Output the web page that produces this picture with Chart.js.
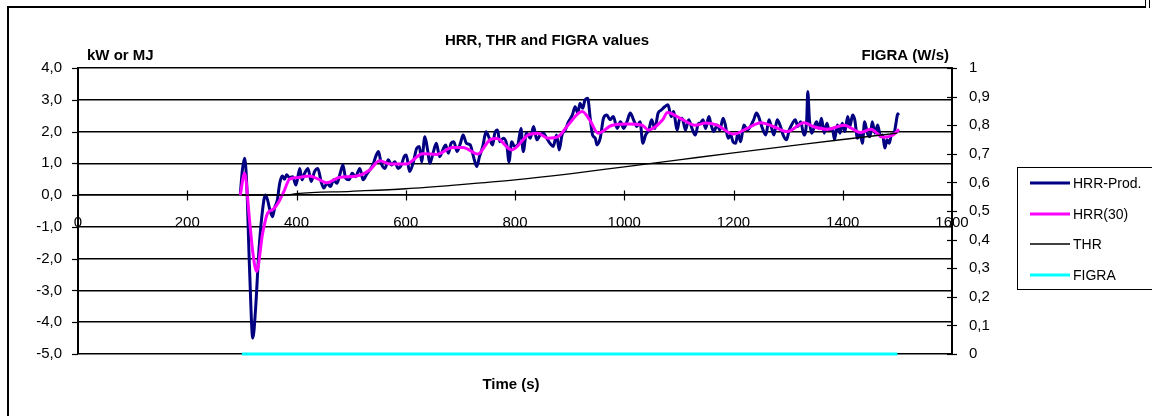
<!DOCTYPE html>
<html><head><meta charset="utf-8">
<script src="https://cdn.jsdelivr.net/npm/chart.js@4.4.0/dist/chart.umd.min.js"></script>
<style>html,body{margin:0;padding:0;background:#fff;overflow:hidden}#wrap{position:relative;width:1152px;height:416px}</style>
</head><body><div id="wrap"><canvas id="c" width="1152" height="416"></canvas></div>
<script>
// ---- DATA ----
const chartTitle = "HRR, THR and FIGRA values";
const seriesNames = ["HRR-Prod.", "HRR(30)", "THR", "FIGRA"];

const prodT = [297,301,305,309,314,320,325,331,337,343,347,351,356,360,365,369,374,378,382,387,
393,399,406,410,415,421,427,433,439,445,450,456,462,468,474,480,485,490,496,502,508,516,522,528,534,540,545,550,555,562,568,574,580,586,592,597,601,607,614,620,625,629,635,640,644,650,656,662,669,673,678,683,688,694,700,705,711,718,724,730,735,741,747,753,759,
763,768,772,779,785,789,794,799,805,811,815,821,828,834,840,846,852,858,864,870,876,881,886,892,898,905,910,915,919,924,928,933,938,942,947,950,956,962,968,974,980,987,993,999,1005,1011,1017,1023,1029,1034,1039,1045,1050,1056,1062,1068,1074,1080,1086,1090,1097,1101,1106,1112,1118,1124,1130,1136,
1139,1144,1149,1155,1159,1164,1170,1175,1181,1185,1190,1195,1199,1204,1208,1213,1219,1225,1231,1237,1242,1246,1253,1259,1265,1269,1274,1280,1285,1291,1297,1302,1308,1313,1318,1323,1329,1334,1336,1339,1343,1347,1352,1357,1361,1366,1371,1375,1381,1385,1390,1395,1399,1404,1409,1413,1418,1422,1427,1432,1436,1440,1445,1450,1454,1459,1464,1469,1473,1477,1481,1485,1489,1494,1497,1500,1503];
const prodV = [0.0,0.8,1.16,0.3,-2.3,-4.5,-3.6,-1.8,-0.6,0.0,-0.15,-0.45,-0.68,-0.4,-0.15,0.35,0.6,0.5,0.64,0.55,
0.58,0.32,0.84,0.48,0.69,0.84,0.43,0.74,0.84,0.43,0.22,0.37,0.27,0.48,0.37,0.69,0.95,0.53,0.48,0.69,0.58,0.84,0.48,0.64,0.79,0.95,1.21,1.37,1.00,0.84,1.11,0.95,1.05,0.84,0.95,1.21,1.26,0.74,1.05,1.47,1.53,1.05,1.84,1.42,1.00,1.32,1.63,1.21,1.47,1.58,1.32,1.63,1.68,1.37,1.63,1.89,1.63,1.58,1.21,0.90,1.21,1.53,1.99,1.79,1.58,
1.95,2.05,1.68,1.79,1.58,1.05,1.68,1.53,1.58,2.10,1.37,1.95,1.79,2.16,1.74,1.89,1.95,1.79,1.63,1.53,1.89,1.42,1.89,2.05,2.31,2.52,2.78,2.58,2.89,2.73,2.99,3.05,2.37,1.89,1.79,1.58,1.79,2.42,2.52,2.37,2.47,2.10,2.31,2.10,2.31,2.58,2.37,2.16,2.31,1.63,1.89,2.05,2.37,2.10,2.58,2.68,2.78,2.84,2.47,2.63,2.05,2.37,2.42,2.05,2.37,2.10,1.89,2.26,
2.26,2.37,2.10,2.47,2.21,2.00,2.21,2.05,2.42,2.21,1.79,1.89,1.68,1.63,1.95,1.68,2.21,2.05,2.16,2.37,2.58,2.47,2.10,1.89,2.37,2.16,1.89,2.37,2.21,1.89,1.74,2.05,2.26,2.37,2.16,2.31,1.89,2.37,3.26,2.37,1.95,2.10,2.31,2.10,2.42,1.95,2.26,2.05,2.10,1.74,2.21,1.95,2.26,2.00,2.47,2.16,2.52,2.37,1.79,1.95,1.63,2.31,1.95,1.84,2.31,1.95,2.21,1.84,1.89,1.48,1.74,1.63,1.89,1.95,2.21,2.52,2.58];

const avgT = [297,305,314,320,327,338,347,357,368,378,387,400,424,440,455,479,510,534,552,571,601,631,656,686,705,732,754,767,794,824,842,860,879,897,923,937,952,978,1007,1033,1044,1070,1079,1106,1130,1149,1170,1200,1225,1250,1274,1299,1329,1347,1372,1402,1433,1451,1475,1492,1503];
const avgV = [0.0,0.69,-0.78,-1.8,-2.4,-1.2,-0.57,-0.45,-0.2,0.16,0.5,0.55,0.6,0.5,0.39,0.56,0.6,0.79,1.08,0.98,0.98,1.3,1.28,1.5,1.5,1.29,1.74,1.78,1.42,1.89,1.95,1.79,1.84,2.2,2.63,2.36,1.95,2.2,2.24,2.2,2.05,2.36,2.6,2.38,2.2,2.27,2.2,1.92,2.1,2.28,2.15,2.0,2.28,2.15,2.07,2.2,1.97,2.07,1.82,1.89,2.07];

const thrT = [300,380,400,500,600,700,800,900,1000,1100,1200,1300,1400,1500];
const thrV = [0,0,0.05,0.12,0.2,0.33,0.48,0.67,0.89,1.11,1.33,1.54,1.75,1.95];

const figraT = [300,1500];
const figraV = [0,0];

const xMin = 0, xMax = 1600, xStep = 200;
const yMin = -5, yMax = 4, yStep = 1;
const y1Min = 0, y1Max = 1, y1Step = 0.1;
const leftAxisTitle = "kW or MJ";
const rightAxisTitle = "FIGRA (W/s)";
const xAxisTitle = "Time (s)";

// ---- CHART ----
const pts = (t, v) => t.map((x, i) => ({x: x, y: v[i]}));
const FONT = "'Liberation Sans', Arial, sans-serif";
Chart.defaults.font.family = FONT;
Chart.defaults.font.size = 15;
Chart.defaults.color = '#000';

const deco = {
  id: 'deco',
  beforeDraw(chart) {
    const c = chart.ctx;
    c.save(); c.fillStyle = '#fff'; c.fillRect(0, 0, chart.width, chart.height); c.restore();
  },
  afterDraw(chart) {
    const c = chart.ctx, a = chart.chartArea;
    const {x, y, y1} = chart.scales;
    c.save();
    c.strokeStyle = '#000';
    c.lineWidth = 1.2;
    const line = (x0, yA, x1, yB) => { c.beginPath(); c.moveTo(x0, yA); c.lineTo(x1, yB); c.stroke(); };
    const yz = Math.round(y.getPixelForValue(0)) + 0.5;
    x.ticks.forEach(t => { const px = Math.round(x.getPixelForValue(t.value)) + 0.5; line(px, yz - 5, px, yz + 5); });
    y.ticks.forEach(t => { const py = Math.round(y.getPixelForValue(t.value)) + 0.5; line(a.left - 6, py, a.left, py); });
    y1.ticks.forEach(t => { const py = Math.round(y1.getPixelForValue(t.value)) + 0.5; line(a.right - 5, py, a.right + 5, py); });

    // titles
    c.fillStyle = '#000';
    c.font = 'bold 15px ' + FONT;
    c.textBaseline = 'alphabetic';
    c.textAlign = 'center';
    c.fillText(chartTitle, 547, 45);
    c.textAlign = 'left';
    c.fillText(leftAxisTitle, 87, 60);
    c.textAlign = 'right';
    c.fillText(rightAxisTitle, 949, 60);
    c.textAlign = 'center';
    c.fillText(xAxisTitle, 511, 389);

    // legend
    c.lineWidth = 1;
    c.strokeRect(1017.5, 167.5, 150, 122);
    c.font = '14px ' + FONT;
    c.textAlign = 'left';
    c.textBaseline = 'middle';
    const rows = [183, 214, 244, 275];
    chart.data.datasets.forEach((ds, i) => {
      c.strokeStyle = ds.borderColor;
      c.lineWidth = ds.borderWidth;
      line(1030, rows[i], 1070, rows[i]);
      c.fillStyle = '#000';
      c.fillText(ds.label, 1073, rows[i] + 1);
    });

    // outer frame
    c.strokeStyle = '#000';
    c.lineWidth = 2;
    line(8, 7, 1146, 7);
    line(8, 6, 8, 416);
    c.lineWidth = 1;
    line(1145.5, 0, 1145.5, 8);
    line(1149.5, 0, 1149.5, 8);
    c.restore();
  }
};

const fmtLeft = v => (Math.round(v * 10) / 10).toFixed(1).replace('.', ',');
const fmtRight = v => { const r = Math.round(v * 10) / 10; return (r === 0 || r === 1) ? String(r) : r.toFixed(1).replace('.', ','); };

new Chart(document.getElementById('c'), {
  type: 'line',
  data: {
    datasets: [
      {label: seriesNames[0], data: pts(prodT, prodV), borderColor: '#000080', borderWidth: 3, pointRadius: 0, cubicInterpolationMode: 'monotone', yAxisID: 'y', order: 4},
      {label: seriesNames[1], data: pts(avgT, avgV), borderColor: '#FF00FF', borderWidth: 3, pointRadius: 0, cubicInterpolationMode: 'monotone', yAxisID: 'y', order: 2},
      {label: seriesNames[2], data: pts(thrT, thrV), borderColor: '#000000', borderWidth: 1.3, pointRadius: 0, cubicInterpolationMode: 'monotone', yAxisID: 'y', order: 1},
      {label: seriesNames[3], data: pts(figraT, figraV), borderColor: '#00FFFF', borderWidth: 3, pointRadius: 0, yAxisID: 'y1', order: 3, clip: false}
    ]
  },
  options: {
    responsive: false,
    animation: false,
    devicePixelRatio: 1,
    layout: {padding: {top: 68, bottom: 62, left: 0, right: 0}},
    plugins: {legend: {display: false}, title: {display: false}, tooltip: {enabled: false}},
    scales: {
      x: {
        type: 'linear', position: {y: 0}, min: xMin, max: xMax,
        ticks: {stepSize: xStep, padding: 19, autoSkip: false, maxRotation: 0, color: '#000', font: {size: 15}, callback: v => String(v)},
        grid: {display: false, drawTicks: false},
        border: {display: true, color: '#000', width: 1.5}
      },
      y: {
        position: 'left', min: yMin, max: yMax,
        ticks: {stepSize: yStep, padding: 16, color: '#000', font: {size: 15}, callback: fmtLeft},
        grid: {color: '#000', lineWidth: 1.5, drawTicks: false},
        border: {display: true, color: '#000', width: 2},
        afterFit(s) { s.width = 78; }
      },
      y1: {
        position: 'right', min: y1Min, max: y1Max,
        ticks: {stepSize: y1Step, padding: 17, color: '#000', font: {size: 15}, callback: fmtRight},
        grid: {display: false, drawTicks: false},
        border: {display: true, color: '#000', width: 2},
        afterFit(s) { s.width = 200; }
      }
    }
  },
  plugins: [deco]
});
</script>
</body></html>
